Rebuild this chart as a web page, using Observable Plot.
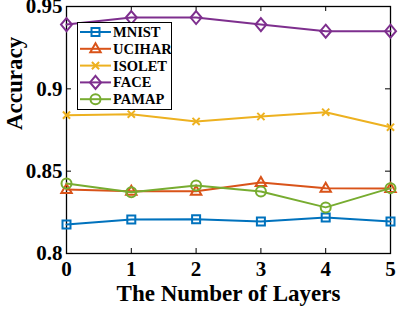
<!DOCTYPE html>
<html><head><meta charset="utf-8">
<script src="https://cdn.jsdelivr.net/npm/d3@7"></script>
<script src="https://cdn.jsdelivr.net/npm/@observablehq/plot@0.6"></script>
<style>
body{margin:0;background:#fff;}
#wrap{position:relative;width:399px;height:311px;}
#legend{position:absolute;left:77px;top:22px;width:95px;height:88px;border:1px solid #000;background:#fff;box-sizing:border-box;}
</style>
</head><body>
<div id="wrap"><div id="chart"></div><div id="legend"></div></div>
<script>
const layers = [0, 1, 2, 3, 4, 5];
const seriesNames = ["MNIST", "UCIHAR", "ISOLET", "FACE", "PAMAP"];
const MNIST  = [0.8176, 0.8207, 0.8208, 0.8194, 0.8219, 0.8194];
const UCIHAR = [0.8389, 0.8378, 0.8378, 0.8431, 0.8396, 0.8395];
const ISOLET = [0.8840, 0.8846, 0.8802, 0.8832, 0.8858, 0.8767];
const FACE   = [0.9390, 0.9433, 0.9433, 0.9390, 0.9350, 0.9350];
const PAMAP  = [0.8425, 0.8372, 0.8413, 0.8377, 0.8280, 0.8397];
const xTicks = [0, 1, 2, 3, 4, 5];
const yTicks = [0.8, 0.85, 0.9, 0.95];
const yTickLabels = ["0.8", "0.85", "0.9", "0.95"];
const colors = ["#0072BD", "#D95319", "#EDB120", "#7E2F8E", "#77AC30"];

const symSquare = {draw(c){c.rect(-4,-4,8,8);}};
const symTriangle = {draw(c){c.moveTo(0,-5.5);c.lineTo(5.2,3.5);c.lineTo(-5.2,3.5);c.closePath();}};
const symTimes = {draw(c){c.moveTo(-3.6,-3.6);c.lineTo(3.6,3.6);c.moveTo(3.6,-3.6);c.lineTo(-3.6,3.6);}};
const symDiamond = {draw(c){c.moveTo(0,-6.5);c.lineTo(5.5,0);c.lineTo(0,6.5);c.lineTo(-5.5,0);c.closePath();}};
const symCircle = {draw(c){c.moveTo(5,0);c.arc(0,0,5,0,2*Math.PI);}};
const symbols = [symSquare, symTriangle, symTimes, symDiamond, symCircle];

const allValues = [MNIST, UCIHAR, ISOLET, FACE, PAMAP];
const rows = [];
seriesNames.forEach((name, i) => layers.forEach((l, j) => rows.push({series: name, idx: i, layer: l, acc: allValues[i][j]})));

const font = '"Liberation Serif","Times New Roman",serif';
const H = 253 - 6;

const marks = [
  Plot.frame({stroke: "#000", strokeWidth: 1.3}),
  Plot.tickX(xTicks, {x: d => d, insetTop: H - 5, stroke: "#000", strokeWidth: 1}),
  Plot.tickX(xTicks, {x: d => d, insetBottom: H - 5, stroke: "#000", strokeWidth: 1}),
  Plot.tickY(yTicks, {y: d => d, insetLeft: 324 - 5, stroke: "#000", strokeWidth: 1}),
  Plot.tickY(yTicks, {y: d => d, insetRight: 324 - 5, stroke: "#000", strokeWidth: 1}),
  Plot.axisX(xTicks, {tickSize: 0, tickPadding: 8, label: null, fontSize: 21, fontWeight: "bold"}),
  Plot.axisY(yTicks, {tickSize: 0, tickPadding: 4, label: null, fontSize: 21, fontWeight: "bold",
    tickFormat: d => yTickLabels[yTicks.indexOf(d)]}),
  Plot.text(["The Number of Layers"], {frameAnchor: "bottom", dy: 47, fontSize: 23, fontWeight: "bold", text: d => d}),
  Plot.text(["Accuracy"], {frameAnchor: "left", dx: -52, rotate: -90, fontSize: 23, fontWeight: "bold", text: d => d})
];
seriesNames.forEach((name, i) => {
  const data = rows.filter(r => r.idx === i);
  marks.push(Plot.line(data, {x: "layer", y: "acc", stroke: colors[i], strokeWidth: 2}));
  marks.push(Plot.dot(data, {x: "layer", y: "acc", stroke: colors[i], strokeWidth: 2, fill: "none", symbol: () => symbols[i], r: 4}));
});

const chart = Plot.plot({
  width: 399, height: 311,
  marginLeft: 66, marginRight: 9, marginTop: 6, marginBottom: 58,
  x: {domain: [0, 5]},
  y: {domain: [0.8, 0.95]},
  symbol: {type: "identity"},
  style: {fontFamily: font, fontWeight: "bold", color: "#000", background: "#fff", overflow: "visible"},
  marks
});
document.getElementById("chart").appendChild(chart);

// legend
const leg = d3.select("#legend").append("svg").attr("width", 95).attr("height", 88).style("position","absolute").style("left","-1px").style("top","-1px");
seriesNames.forEach((name, i) => {
  const cy = 10 + i * 16.8;
  const g = leg.append("g").attr("transform", `translate(0,${cy})`);
  g.append("line").attr("x1", 3).attr("x2", 34).attr("y1", 0).attr("y2", 0).attr("stroke", colors[i]).attr("stroke-width", 2);
  g.append("path").attr("d", d3.symbol(symbols[i])()).attr("transform", "translate(18.5,0)").attr("fill", "none").attr("stroke", colors[i]).attr("stroke-width", 2);
  g.append("text").attr("x", 36).attr("y", 5).attr("font-family", font).attr("font-weight", "bold").attr("font-size", 14.5).text(name);
});
</script>
</body></html>
